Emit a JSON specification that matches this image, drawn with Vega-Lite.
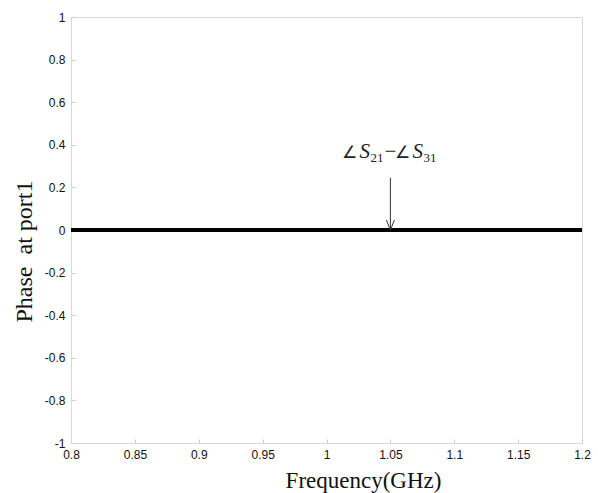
{
  "$schema": "https://vega.github.io/schema/vega-lite/v6.json",
  "width": 511,
  "height": 426,
  "autosize": "none",
  "padding": {"left": 71, "top": 17, "right": 16, "bottom": 50},
  "background": "white",
  "config": {
    "view": {"stroke": "#d9d9d9", "strokeWidth": 1},
    "axis": {
      "grid": false,
      "domainColor": "#d9d9d9",
      "tickColor": "#cccccc",
      "tickSize": -4,
      "labelFont": "Liberation Sans",
      "labelFontSize": 12,
      "labelColor": "#111111",
      "labelExpr": "'' + datum.value",
      "titleFont": "Liberation Serif",
      "titleFontWeight": "normal",
      "titleColor": "#111111"
    }
  },
  "datasets": {
    "line": [{"f": 0.8, "p": 0}, {"f": 1.2, "p": 0}],
    "arrow": [{"f": 1.05, "p": 0.245}, {"f": 1.05, "p": 0.0}],
    "tip": [{"f": 1.05, "p": 0.0}],
    "label": [{"f": 1.05, "p": 0.338}]
  },
  "layer": [
    {
      "data": {"name": "line"},
      "mark": {"type": "line", "color": "black", "strokeWidth": 4},
      "encoding": {
        "x": {"field": "f", "type": "quantitative", "scale": {"domain": [0.8, 1.2], "nice": false, "zero": false},
              "axis": {"values": [0.8, 0.85, 0.9, 0.95, 1, 1.05, 1.1, 1.15, 1.2], "labelPadding": 10, "labelFlush": false, "title": "Frequency(GHz)", "titleFontSize": 23, "titleX": 292, "titleY": 44, "titleBaseline": "alphabetic", "titleAlign": "center"}},
        "y": {"field": "p", "type": "quantitative", "scale": {"domain": [-1, 1], "nice": false},
              "axis": {"values": [-1, -0.8, -0.6, -0.4, -0.2, 0, 0.2, 0.4, 0.6, 0.8, 1], "labelPadding": 10, "labelFlush": false, "title": "Phase\u00a0\u00a0at port1", "titleFontSize": 24, "titleX": -40, "titleY": 234, "titleBaseline": "alphabetic", "titleAlign": "center", "titleAngle": -90}}
      }
    },
    {
      "data": {"name": "arrow"},
      "mark": {"type": "line", "color": "#333333", "strokeWidth": 1},
      "encoding": {
        "x": {"field": "f", "type": "quantitative"},
        "y": {"field": "p", "type": "quantitative"}
      }
    },
    {
      "data": {"name": "tip"},
      "mark": {"type": "point", "shape": "M -1 -2.5 L 0 0 L 1 -2.5", "filled": false, "stroke": "#333333", "strokeWidth": 1, "size": 64, "opacity": 1},
      "encoding": {
        "x": {"field": "f", "type": "quantitative"},
        "y": {"field": "p", "type": "quantitative"}
      }
    },
    {
      "data": {"name": "label"},
      "encoding": {
        "x": {"field": "f", "type": "quantitative"},
        "y": {"field": "p", "type": "quantitative"}
      },
      "layer": [
        {"mark": {"type": "text", "text": "∠", "font": "Liberation Serif", "fontSize": 17, "color": "#222222", "align": "left", "baseline": "alphabetic", "dx": -48}},
        {"mark": {"type": "text", "text": "S", "font": "Liberation Serif", "fontStyle": "italic", "fontSize": 21, "color": "#222222", "align": "left", "baseline": "alphabetic", "dx": -31}},
        {"mark": {"type": "text", "text": "21", "font": "Liberation Serif", "fontSize": 13, "color": "#222222", "align": "left", "baseline": "alphabetic", "dx": -20, "dy": 4}},
        {"mark": {"type": "text", "text": "−", "font": "Liberation Serif", "fontSize": 21, "color": "#222222", "align": "left", "baseline": "alphabetic", "dx": -6}},
        {"mark": {"type": "text", "text": "∠", "font": "Liberation Serif", "fontSize": 17, "color": "#222222", "align": "left", "baseline": "alphabetic", "dx": 5}},
        {"mark": {"type": "text", "text": "S", "font": "Liberation Serif", "fontStyle": "italic", "fontSize": 21, "color": "#222222", "align": "left", "baseline": "alphabetic", "dx": 22}},
        {"mark": {"type": "text", "text": "31", "font": "Liberation Serif", "fontSize": 13, "color": "#222222", "align": "left", "baseline": "alphabetic", "dx": 33, "dy": 4}}
      ]
    }
  ]
}
